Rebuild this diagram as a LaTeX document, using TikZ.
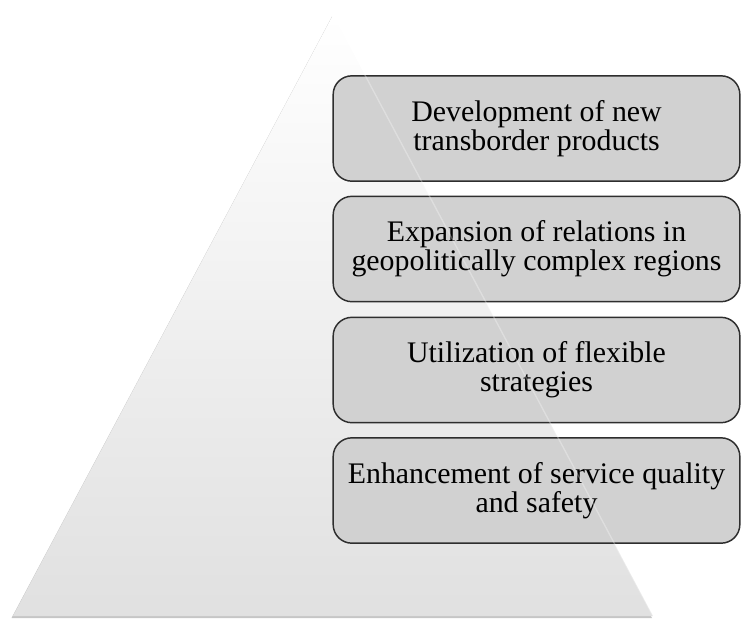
\documentclass[tikz,border=0pt]{standalone}
\usepackage{fontspec}
\setmainfont{Liberation Serif}
\definecolor{boxgray}{HTML}{D1D1D1}
\definecolor{boxline}{HTML}{2E2E2E}
\tikzset{
	stage/.style={draw=boxline, line width=1.1pt, fill=boxgray, rounded corners=14pt,
		minimum width=305pt, minimum height=79pt, align=center, inner sep=2pt,
		font=\fontsize{22.4pt}{21.5pt}\selectfont}
}

\begin{document}
\begin{tikzpicture}[x=0.75pt, y=-0.75pt]
					\useasboundingbox (0,0) rectangle (742,619);

					% pyramid in the background
					\fill[gray!45] (11.5,618) -- (332,16.5) -- (652,618) -- cycle;
					\shade[top color=white, bottom color=black!12] (13,616) -- (333,15) -- (653,616) -- cycle;

					\node (A) at (536.5,128.5) [stage] {Development of new\\transborder products};
					\node (B) at (536.5,249)   [stage] {Expansion of relations in\\geopolitically complex regions};
					\node (C) at (536.5,370)   [stage] {Utilization of flexible\\strategies};
					\node (D) at (536.5,490.5) [stage] {Enhancement of service quality\\and safety};

					% faint edge of the pyramid over the boxes
					\draw[white, opacity=0.3, line width=1pt] (333,15) -- (653,616);
				\end{tikzpicture}
\end{document}
